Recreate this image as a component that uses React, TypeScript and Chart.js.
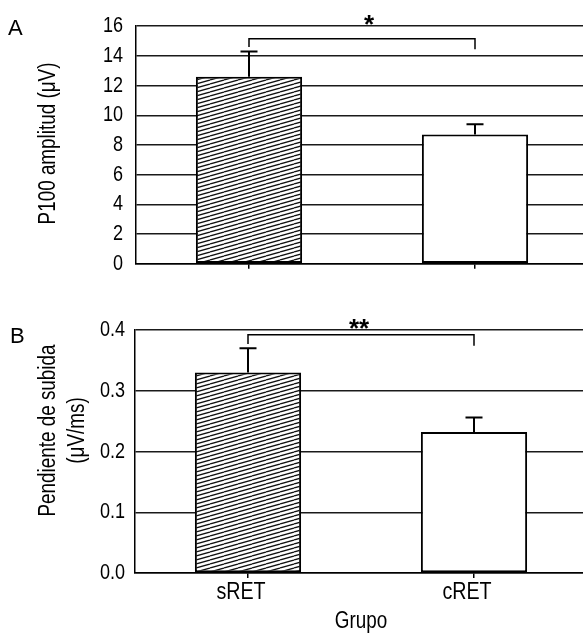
import React, { useEffect, useRef } from 'react';
import { Chart, registerables } from 'chart.js';

Chart.register(...registerables);

// ---- data ----
const categories = ['sRET', 'cRET'];
const amplitudeMeans = [12.6, 8.7];
const amplitudeErrors = [1.7, 0.7];
const slopeMeans = [0.33, 0.232];
const slopeErrors = [0.04, 0.024];
const amplitudeAxis = [0, 16, 2]; // min, max, step
const slopeAxis = [0, 0.4, 0.1];
const amplitudeBracket = [15.15, 14.6, 14.45]; // level, left drop end, right drop end
const slopeBracket = [0.392, 0.377, 0.374];
const amplitudeStars = '*';
const slopeStars = '**';
const amplitudeStarLevel = 16.55;
const slopeStarLevel = 0.412;
const panelLetters = ['A', 'B'];
const amplitudeTitle = ['P100 amplitud (μV)'];
const slopeTitle = ['Pendiente de subida', '(μV/ms)'];
const xTitle = 'Grupo';

const FONT = '"Liberation Sans", Arial, sans-serif';
const NARROW_FACTOR = 0.82;

function makeHatch(): CanvasPattern | string {
  const c = document.createElement('canvas');
  c.width = 14;
  c.height = 4;
  const g = c.getContext('2d');
  if (!g) return '#888';
  g.fillStyle = '#fff';
  g.fillRect(0, 0, 14, 4);
  g.strokeStyle = '#111';
  g.lineWidth = 1.3;
  for (const y0 of [-4, 0, 4]) {
    g.beginPath();
    g.moveTo(0, y0 + 4);
    g.lineTo(14, y0);
    g.stroke();
  }
  return g.createPattern(c, 'repeat') || '#888';
}

// condensed text (the figure uses a narrow sans face)
const narrowText = {
  id: 'narrowText',
  beforeInit(chart: any) {
    const ctx: any = chart.ctx;
    if (ctx.__plainFill) return;
    const plain = ctx.fillText;
    ctx.__plainFill = plain;
    ctx.fillText = function (t: string, x: number, y: number, mw?: number) {
      this.save();
      this.translate(x, y);
      this.scale(NARROW_FACTOR, 1);
      if (mw === undefined) plain.call(this, t, 0, 0);
      else plain.call(this, t, 0, 0, mw / NARROW_FACTOR);
      this.restore();
    };
  },
};

type OverlayOpts = {
  errors: number[];
  bracket: number[];
  stars: string;
  starLevel: number;
  starShift: number;
  letter: string;
  letterPos: [number, number];
  title: string[];
  titleXs: number[];
  titleShift: number;
};

function makeOverlay(o: OverlayOpts) {
  return {
    id: 'overlay',
    afterDatasetsDraw(chart: any) {
      const ctx: any = chart.ctx;
      const plainFill = ctx.__plainFill || ctx.fillText;
      const y = chart.scales.y;
      const meta = chart.getDatasetMeta(0);
      const values = chart.data.datasets[0].data as number[];
      ctx.save();
      ctx.strokeStyle = '#000';
      ctx.lineWidth = 2;
      // error bars (upper only)
      meta.data.forEach((bar: any, i: number) => {
        const top = y.getPixelForValue(values[i] + o.errors[i]);
        ctx.beginPath();
        ctx.moveTo(bar.x, bar.y);
        ctx.lineTo(bar.x, top);
        ctx.moveTo(bar.x - 8.5, top);
        ctx.lineTo(bar.x + 8.5, top);
        ctx.stroke();
      });
      // significance bracket
      const x1 = meta.data[0].x;
      const x2 = meta.data[1].x;
      const by = y.getPixelForValue(o.bracket[0]);
      ctx.lineWidth = 1.5;
      ctx.beginPath();
      ctx.moveTo(x1, y.getPixelForValue(o.bracket[1]));
      ctx.lineTo(x1, by);
      ctx.lineTo(x2, by);
      ctx.lineTo(x2, y.getPixelForValue(o.bracket[2]));
      ctx.stroke();
      // stars
      ctx.fillStyle = '#000';
      ctx.font = `bold 26px ${FONT}`;
      ctx.textAlign = 'center';
      ctx.textBaseline = 'alphabetic';
      plainFill.call(ctx, o.stars, (x1 + x2) / 2 + o.starShift, y.getPixelForValue(o.starLevel) + 14.5);
      // panel letter
      ctx.font = `22px ${FONT}`;
      ctx.textAlign = 'left';
      plainFill.call(ctx, o.letter, o.letterPos[0], o.letterPos[1]);
      // y-axis title
      const area = chart.chartArea;
      const cy = (area.top + area.bottom) / 2 + o.titleShift;
      ctx.font = `23px ${FONT}`;
      ctx.textAlign = 'center';
      ctx.textBaseline = 'middle';
      o.title.forEach((line, i) => {
        ctx.save();
        ctx.translate(o.titleXs[i], cy);
        ctx.rotate(-Math.PI / 2);
        ctx.fillText(line, 0, 0);
        ctx.restore();
      });
      ctx.restore();
    },
  };
}

function buildChart(
  canvas: HTMLCanvasElement,
  means: number[],
  axis: number[],
  opts: {
    padTop: number;
    padRight: number;
    yWidth: number;
    xHeight: number;
    showXLabels: boolean;
    yLabelPad: number;
    decimals: number;
    overlay: OverlayOpts;
  }
) {
  const hatch = makeHatch();
  return new Chart(canvas, {
    type: 'bar',
    data: {
      labels: categories,
      datasets: [
        {
          data: means,
          backgroundColor: [hatch as any, '#ffffff'],
          borderColor: '#000',
          borderWidth: 2,
          borderSkipped: false,
          categoryPercentage: 1,
          barPercentage: 0.47,
        },
      ],
    },
    options: {
      responsive: false,
      animation: false,
      devicePixelRatio: 1,
      layout: { padding: { top: opts.padTop, right: opts.padRight, left: 0, bottom: 0 } },
      plugins: { legend: { display: false }, tooltip: { enabled: false } },
      scales: {
        x: {
          offset: true,
          grid: { display: true, drawOnChartArea: false, drawTicks: true, tickLength: 5, offset: false, color: '#000', lineWidth: 1.5 },
          border: { display: true, color: '#000', width: 1.5 },
          ticks: {
            display: opts.showXLabels,
            color: '#000',
            font: { family: FONT, size: 24, lineHeight: 1.2 },
            padding: 0,
            labelOffset: -7,
          },
          title: {
            display: opts.showXLabels,
            text: xTitle,
            color: '#000',
            font: { family: FONT, size: 23, lineHeight: 1 },
            padding: { top: 0, bottom: 0 },
          },
          afterFit: (s: any) => {
            s.height = opts.xHeight;
          },
        },
        y: {
          min: axis[0],
          max: axis[1],
          grid: { display: true, drawTicks: false, color: '#1a1a1a', lineWidth: 1.5 },
          border: { display: true, color: '#000', width: 1.5 },
          ticks: {
            stepSize: axis[2],
            color: '#000',
            padding: opts.yLabelPad,
            font: { family: FONT, size: 22 },
            callback: (v: any) => Number(v).toFixed(opts.decimals),
          },
          afterFit: (s: any) => {
            s.width = opts.yWidth;
          },
        },
      },
    },
    plugins: [narrowText, makeOverlay(opts.overlay)],
  });
}

export default function App() {
  const refA = useRef<HTMLCanvasElement>(null);
  const refB = useRef<HTMLCanvasElement>(null);

  useEffect(() => {
    if (!refA.current || !refB.current) return;
    const a = buildChart(refA.current, amplitudeMeans, amplitudeAxis, {
      padTop: 24,
      padRight: 12,
      yWidth: 136,
      xHeight: 23,
      showXLabels: false,
      yLabelPad: 13,
      decimals: 0,
      overlay: {
        errors: amplitudeErrors,
        bracket: amplitudeBracket,
        stars: amplitudeStars,
        starLevel: amplitudeStarLevel,
        starShift: 7,
        letter: panelLetters[0],
        letterPos: [8, 35],
        title: amplitudeTitle,
        titleXs: [49],
        titleShift: -1.5,
      },
    });
    const b = buildChart(refB.current, slopeMeans, slopeAxis, {
      padTop: 30,
      padRight: 13,
      yWidth: 135,
      xHeight: 60,
      showXLabels: true,
      yLabelPad: 10,
      decimals: 1,
      overlay: {
        errors: slopeErrors,
        bracket: slopeBracket,
        stars: slopeStars,
        starLevel: slopeStarLevel,
        starShift: -2,
        letter: panelLetters[1],
        letterPos: [10, 43],
        title: slopeTitle,
        titleXs: [49, 78],
        titleShift: -21,
      },
    });
    return () => {
      a.destroy();
      b.destroy();
    };
  }, []);

  return (
    <div style={{ position: 'absolute', left: 0, top: 0, width: 583, height: 633, overflow: 'hidden', background: '#fff' }}>
      <canvas ref={refA} width={600} height={290} style={{ position: 'absolute', left: 0, top: 0, width: 600, height: 290 }} />
      <canvas ref={refB} width={600} height={333} style={{ position: 'absolute', left: 0, top: 300, width: 600, height: 333 }} />
    </div>
  );
}
